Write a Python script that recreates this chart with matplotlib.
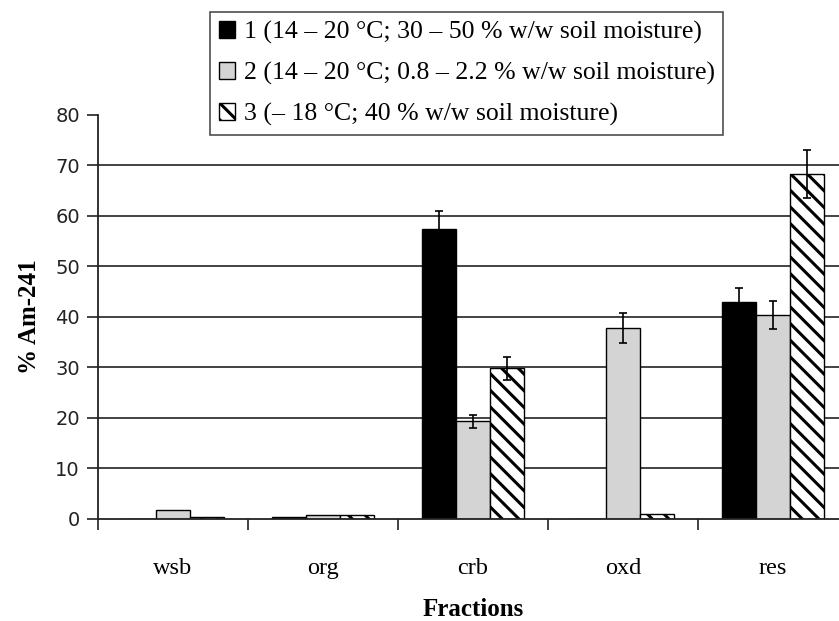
import matplotlib
matplotlib.use("Agg")
import matplotlib.pyplot as plt
import numpy as np

categories = ["wsb", "org", "crb", "oxd", "res"]
series_labels = ["1 (14 – 20 °C; 30 – 50 % w/w soil moisture)",
                 "2 (14 – 20 °C; 0.8 – 2.2 % w/w soil moisture)",
                 "3 (– 18 °C; 40 % w/w soil moisture)"]
series1 = [0.0, 0.3, 57.3, 0.0, 42.9]
series2 = [1.7, 0.7, 19.3, 37.8, 40.4]
series3 = [0.3, 0.7, 29.8, 1.0, 68.3]
err1 = [0.0, 0.0, 3.6, 0.0, 2.8]
err2 = [0.0, 0.0, 1.3, 2.9, 2.8]
err3 = [0.0, 0.0, 2.2, 0.0, 4.7]
yticks = [0, 10, 20, 30, 40, 50, 60, 70, 80]

plt.rcParams['hatch.linewidth'] = 2.2
serif = "Liberation Serif"

fig = plt.figure(figsize=(8.39, 6.21), dpi=100)
ax = fig.add_axes([98/839, 1-519/621, 750/839, (519-114.7)/621])

x = np.arange(len(categories))
w = 0.227
styles = [dict(color="black", edgecolor="black"),
          dict(color="#d4d4d4", edgecolor="black"),
          dict(color="white", edgecolor="black", hatch="\\\\")]
handles = []
for i, (vals, errs, st, lab) in enumerate(zip([series1, series2, series3],
                                              [err1, err2, err3], styles, series_labels)):
    pos = x + (i - 1) * w
    b = ax.bar(pos, vals, w, linewidth=1.0, label=lab, zorder=3, **st)
    handles.append(b)
    e = np.array(errs)
    v = np.array(vals)
    m = e > 0
    ax.errorbar(pos[m], v[m], yerr=e[m], fmt="none", ecolor="black",
                elinewidth=1.2, capsize=3.2, capthick=1.2, zorder=4)

ax.set_xlim(-0.5, len(categories) - 0.5)
ax.set_ylim(0, 80)
ax.set_yticks(yticks)
ax.set_yticklabels([str(t) for t in yticks], fontfamily="DejaVu Sans", fontsize=14, color="#222222")
for t in yticks[1:-1]:
    ax.axhline(t, color="#222222", linewidth=1.2, zorder=1)

ax.set_xticks(x)
ax.set_xticklabels(categories, fontfamily=serif, fontsize=17.5)
ax.tick_params(axis="x", which="major", length=0, pad=28)
ax.set_xticks(np.arange(len(categories) + 1) - 0.5, minor=True)
ax.tick_params(axis="x", which="minor", length=8, width=1.2, direction="out", color="#222222")
ax.tick_params(axis="y", length=8, width=1.2, direction="out", color="#222222", pad=5)

for s in ["top", "right"]:
    ax.spines[s].set_visible(False)
for s in ["left", "bottom"]:
    ax.spines[s].set_linewidth(1.3)
    ax.spines[s].set_color("#222222")
    ax.spines[s].set_zorder(5)

ax.set_xlabel("Fractions", fontfamily=serif, fontsize=18, fontweight="bold", labelpad=14)
ax.set_ylabel("% Am-241", fontfamily=serif, fontsize=18, fontweight="bold", labelpad=10)

leg = fig.legend(handles=handles, labels=series_labels, loc="upper left",
                 bbox_to_anchor=(210/839, 1-12/621), borderaxespad=0,
                 prop={"family": serif, "size": 18.5}, frameon=True, fancybox=False,
                 edgecolor="#222222", handlelength=0.63, handleheight=0.63,
                 handletextpad=0.34, labelspacing=0.7, borderpad=0.34)
leg.get_frame().set_linewidth(1.2)

fig.savefig("out.png", dpi=100)
